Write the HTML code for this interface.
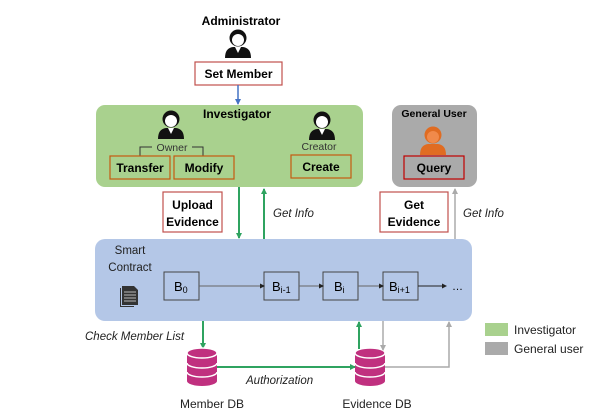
<!DOCTYPE html>
<html><head><meta charset="utf-8"><style>
html,body{margin:0;padding:0;background:#fff}
svg{display:block}
text{font-family:"Liberation Sans",sans-serif}
</style></head><body>
<svg width="611" height="415" viewBox="0 0 611 415" xmlns="http://www.w3.org/2000/svg">
<defs>
<g id="p">
<path d="M-13,14 Q-13,4 -5,3 L5,3 Q13,4 13,14 Z" fill="#111"/>
<path d="M-3,3 L0,9 L3,3 Z" fill="#fff"/>
<circle cx="0" cy="-6" r="8.5" fill="#111"/>
<ellipse cx="0" cy="-4" rx="6" ry="6" fill="#fff"/>
<path d="M-7,-7 Q0,-14 7,-7 L7,-9 Q0,-16 -7,-9Z" fill="#111"/>
</g>
<g id="db">
<path d="M-15,-14 L-15,14 A15,5 0 0 0 15,14 L15,-14 Z" fill="#c0307f"/>
<ellipse cx="0" cy="-14" rx="15" ry="5" fill="#c0307f" stroke="#fff" stroke-width="1.5"/>
<path d="M-15,-4 A15,5 0 0 0 15,-4 M-15,5 A15,5 0 0 0 15,5" fill="none" stroke="#fff" stroke-width="1.5"/>
</g>
<marker id="ag" markerUnits="userSpaceOnUse" markerWidth="6" markerHeight="6" refX="5" refY="3" orient="auto"><path d="M0,0 L6,3 L0,6Z" fill="#2fa360"/></marker>
<marker id="ay" markerUnits="userSpaceOnUse" markerWidth="6" markerHeight="6" refX="5" refY="3" orient="auto"><path d="M0,0 L6,3 L0,6Z" fill="#aaa"/></marker>
<marker id="ab" markerUnits="userSpaceOnUse" markerWidth="6" markerHeight="6" refX="5" refY="3" orient="auto"><path d="M0,0 L6,3 L0,6Z" fill="#4472c4"/></marker>
<marker id="ak" markerUnits="userSpaceOnUse" markerWidth="5" markerHeight="5" refX="4" refY="2.5" orient="auto"><path d="M0,0 L5,2.5 L0,5Z" fill="#222"/></marker>
</defs>

<text x="241" y="25" font-size="12" font-weight="bold" text-anchor="middle">Administrator</text>
<use href="#p" x="238" y="44"/>
<rect x="195" y="62" width="87" height="23" fill="#fff" stroke="#c0504d" stroke-width="1.2"/>
<text x="238.5" y="78" font-size="12" font-weight="bold" text-anchor="middle">Set Member</text>
<line x1="238" y1="85" x2="238" y2="104" stroke="#4472c4" stroke-width="1.5" marker-end="url(#ab)"/>

<rect x="96" y="105" width="267" height="82" rx="9" fill="#a9d18e"/>
<text x="237" y="118" font-size="12" font-weight="bold" text-anchor="middle">Investigator</text>
<use href="#p" x="171" y="125"/>
<text x="172" y="151" font-size="10.5" fill="#333" text-anchor="middle">Owner</text>
<path d="M140,157 V147 H152 M192,147 H203 V157" fill="none" stroke="#333" stroke-width="1"/>
<rect x="110" y="156" width="60" height="23" fill="#a9d18e" stroke="#c55a11" stroke-width="1.2"/>
<text x="140" y="172" font-size="12" font-weight="bold" text-anchor="middle">Transfer</text>
<rect x="174" y="156" width="60" height="23" fill="#a9d18e" stroke="#c55a11" stroke-width="1.2"/>
<text x="204" y="172" font-size="12" font-weight="bold" text-anchor="middle">Modify</text>
<use href="#p" x="322" y="126"/>
<text x="319" y="150" font-size="10.5" fill="#333" text-anchor="middle">Creator</text>
<rect x="291" y="155" width="60" height="23" fill="#a9d18e" stroke="#c55a11" stroke-width="1.2"/>
<text x="321" y="171" font-size="12" font-weight="bold" text-anchor="middle">Create</text>

<rect x="392" y="105" width="85" height="82" rx="9" fill="#aaaaaa"/>
<text x="434" y="117" font-size="10.5" font-weight="bold" text-anchor="middle">General User</text>
<g transform="translate(433,141)"><path d="M-13,14 Q-13,4 -5,3 L5,3 Q13,4 13,14 Z" fill="#e06c22"/><circle cx="0" cy="-6" r="8.5" fill="#e06c22"/><ellipse cx="0" cy="-4" rx="6" ry="6" fill="#f08a4b"/></g>
<rect x="404" y="156" width="60" height="23" fill="#aaaaaa" stroke="#c00000" stroke-width="1.2"/>
<text x="434" y="172" font-size="12" font-weight="bold" text-anchor="middle">Query</text>

<rect x="163" y="192" width="59" height="40" fill="#fff" stroke="#c0504d" stroke-width="1.2"/>
<text x="192.5" y="209" font-size="12" font-weight="bold" text-anchor="middle">Upload</text>
<text x="192.5" y="226" font-size="12" font-weight="bold" text-anchor="middle">Evidence</text>
<line x1="239" y1="187" x2="239" y2="238" stroke="#2fa360" stroke-width="2" marker-end="url(#ag)"/>
<line x1="264" y1="239" x2="264" y2="189" stroke="#2fa360" stroke-width="2" marker-end="url(#ag)"/>
<text x="273" y="217" font-size="11.5" font-style="italic" fill="#222">Get Info</text>
<rect x="380" y="192" width="68" height="40" fill="#fff" stroke="#c0504d" stroke-width="1.2"/>
<text x="414" y="209" font-size="12" font-weight="bold" text-anchor="middle">Get</text>
<text x="414" y="226" font-size="12" font-weight="bold" text-anchor="middle">Evidence</text>
<line x1="455" y1="239" x2="455" y2="189" stroke="#aaa" stroke-width="1.5" marker-end="url(#ay)"/>
<text x="463" y="217" font-size="11.5" font-style="italic" fill="#222">Get Info</text>

<rect x="95" y="239" width="377" height="82" rx="10" fill="#b4c7e7"/>
<text x="130" y="254" font-size="11.5" text-anchor="middle" fill="#222">Smart</text>
<text x="130" y="271" font-size="11.5" text-anchor="middle" fill="#222">Contract</text>
<g fill="#333"><path d="M122,286 h12 l4,4 v15 h-16z"/><path d="M120,288 v19 h14 v-1 h-13 v-18z"/></g>
<g stroke="#ddd" stroke-width="0.8"><line x1="124" y1="292" x2="136" y2="292"/><line x1="124" y1="295" x2="136" y2="295"/><line x1="124" y1="298" x2="136" y2="298"/><line x1="124" y1="301" x2="136" y2="301"/></g>
<g fill="#b4c7e7" stroke="#444" stroke-width="1">
<rect x="164" y="272" width="35" height="28"/><rect x="264" y="272" width="35" height="28"/>
<rect x="323" y="272" width="35" height="28"/><rect x="383" y="272" width="35" height="28"/></g>
<text x="174" y="291" font-size="13">B<tspan font-size="9" dy="2">0</tspan></text>
<text x="272" y="291" font-size="13">B<tspan font-size="9" dy="2">i-1</tspan></text>
<text x="334" y="291" font-size="13">B<tspan font-size="9" dy="2">i</tspan></text>
<text x="389" y="291" font-size="13">B<tspan font-size="9" dy="2">i+1</tspan></text>
<g stroke-width="1"><line x1="199" y1="286" x2="264" y2="286" stroke="#666" marker-end="url(#ak)"/>
<line x1="299" y1="286" x2="323" y2="286" stroke="#666" marker-end="url(#ak)"/>
<line x1="358" y1="286" x2="383" y2="286" stroke="#666" marker-end="url(#ak)"/>
<line x1="418" y1="286" x2="446" y2="286" stroke="#222" marker-end="url(#ak)"/></g>
<text x="452" y="290" font-size="11">…</text>

<line x1="203" y1="321" x2="203" y2="348" stroke="#2fa360" stroke-width="2" marker-end="url(#ag)"/>
<text x="85" y="340" font-size="11.5" font-style="italic" fill="#222">Check Member List</text>
<use href="#db" x="202" y="367"/>
<use href="#db" x="370" y="367"/>
<line x1="217" y1="367" x2="355" y2="367" stroke="#2fa360" stroke-width="2" marker-end="url(#ag)"/>
<text x="246" y="384" font-size="11.5" font-style="italic" fill="#222">Authorization</text>
<line x1="359" y1="349" x2="359" y2="322" stroke="#2fa360" stroke-width="2" marker-end="url(#ag)"/>
<line x1="383" y1="321" x2="383" y2="350" stroke="#aaa" stroke-width="1.5" marker-end="url(#ay)"/>
<path d="M385,367 H449 V322" fill="none" stroke="#aaa" stroke-width="1.5" marker-end="url(#ay)"/>
<text x="212" y="408" font-size="12" text-anchor="middle" fill="#222">Member DB</text>
<text x="377" y="408" font-size="12" text-anchor="middle" fill="#222">Evidence DB</text>

<rect x="485" y="323" width="23" height="13" fill="#a9d18e"/>
<rect x="485" y="342" width="23" height="13" fill="#aaaaaa"/>
<text x="514" y="334" font-size="12" fill="#222">Investigator</text>
<text x="514" y="353" font-size="12" fill="#222">General user</text>
</svg>
</body></html>
